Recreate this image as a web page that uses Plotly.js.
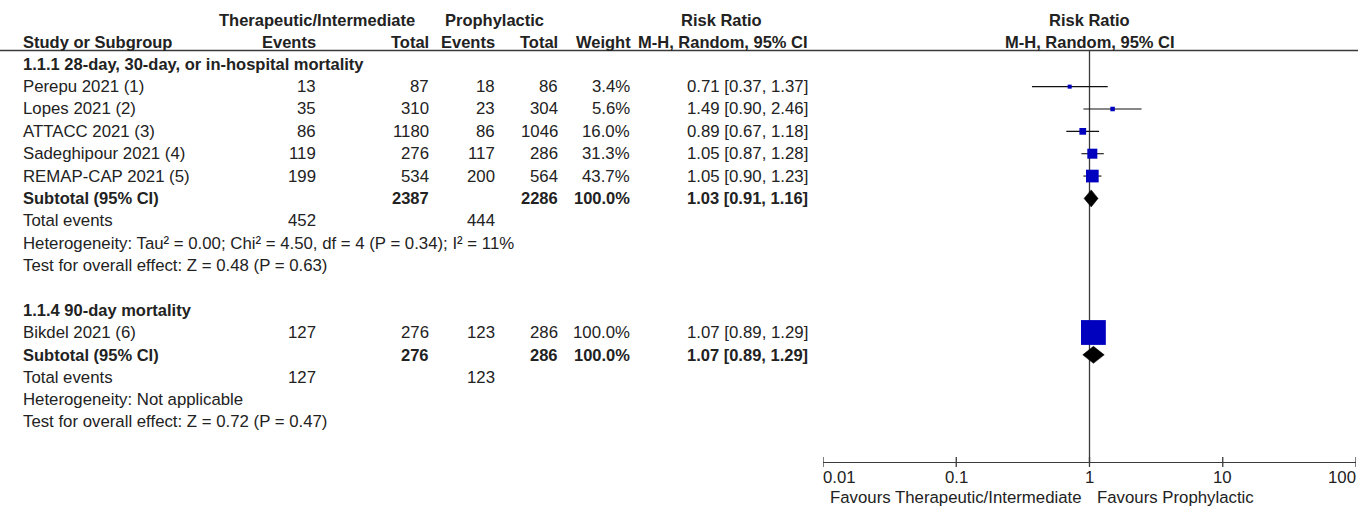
<!DOCTYPE html>
<html>
<head>
<meta charset="utf-8">
<script src="https://cdn.plot.ly/plotly-3.0.1.min.js"></script>
<style>
  html, body { margin: 0; padding: 0; background: #fff; }
  #chart { width: 1358px; height: 506px; }
</style>
</head>
<body>
<div id="chart"></div>
<script>
// ---- Study-level data ----
const studies  = ["Perepu 2021 (1)", "Lopes 2021 (2)", "ATTACC 2021 (3)", "Sadeghipour 2021 (4)", "REMAP-CAP 2021 (5)", "Bikdel 2021 (6)"];
const subgroupOf = [0, 0, 0, 0, 0, 1];
const eventsT  = [13, 35, 86, 119, 199, 127];
const totalT   = [87, 310, 1180, 276, 534, 276];
const eventsP  = [18, 23, 86, 117, 200, 123];
const totalP   = [86, 304, 1046, 286, 564, 286];
const weights  = [3.4, 5.6, 16.0, 31.3, 43.7, 100.0];
const rr       = [0.71, 1.49, 0.89, 1.05, 1.05, 1.07];
const rrLow    = [0.37, 0.90, 0.67, 0.87, 0.90, 0.89];
const rrHigh   = [1.37, 2.46, 1.18, 1.28, 1.23, 1.29];

// ---- Subgroup pooled results ----
const groupTitles   = ["1.1.1 28-day, 30-day, or in-hospital mortality", "1.1.4 90-day mortality"];
const subTotalT     = [2387, 276];
const subTotalP     = [2286, 286];
const subWeight     = [100.0, 100.0];
const subRR         = [1.03, 1.07];
const subLow        = [0.91, 0.89];
const subHigh       = [1.16, 1.29];
const subEventsT    = [452, 127];
const subEventsP    = [444, 123];
const heterogeneity = ["Heterogeneity: Tau\u00B2 = 0.00; Chi\u00B2 = 4.50, df = 4 (P = 0.34); I\u00B2 = 11%",
                       "Heterogeneity: Not applicable"];
const overallTest   = ["Test for overall effect: Z = 0.48 (P = 0.63)",
                       "Test for overall effect: Z = 0.72 (P = 0.47)"];

// ---- Axis ----
const tickVals   = [0.01, 0.1, 1, 10, 100];
const tickLabels = ["0.01", "0.1", "1", "10", "100"];
const favoursLeft  = "Favours Therapeutic/Intermediate";
const favoursRight = "Favours Prophylactic";

// ---- Page geometry (pixels) ----
const W = 1358, H = 506;
const FONT = "Liberation Sans, Arial, sans-serif";
const FS = 16.8;
const FS_BOLD = 16.5;
const INK = "#222";
const ROW0 = 64.3, STEP = 22.35;
const HEAD1 = 20, HEAD2 = 42.5, RULE_Y = 50.5, AXIS_Y = 462;
const PLOT_L = 823, PLOT_R = 1356;
const COL = { label: 23, evT: 316, totT: 429, evP: 495, totP: 558, wt: 630, ci: 808 };

const ann = [];
function txt(x, y, s, anchor, bold) {
  ann.push({
    xref: "paper", yref: "paper", x: x / W, y: 1 - y / H,
    text: bold ? "<b>" + s + "</b>" : s,
    showarrow: false, xanchor: anchor, yanchor: "middle",
    borderpad: 0, borderwidth: 0,
    font: { family: FONT, size: bold ? FS_BOLD : FS, color: INK }
  });
}
const f2 = v => v.toFixed(2);
const ciText = (m, l, h) => f2(m) + " [" + f2(l) + ", " + f2(h) + "]";
const pct = v => v.toFixed(1) + "%";

// Column headers
txt(317, HEAD1, "Therapeutic/Intermediate", "center", true);
txt(494, HEAD1, "Prophylactic", "center", true);
txt(721, HEAD1, "Risk Ratio", "center", true);
txt(1089.5, HEAD1, "Risk Ratio", "center", true);
txt(COL.label, HEAD2, "Study or Subgroup", "left", true);
txt(COL.evT, HEAD2, "Events", "right", true);
txt(COL.totT, HEAD2, "Total", "right", true);
txt(COL.evP, HEAD2, "Events", "right", true);
txt(COL.totP, HEAD2, "Total", "right", true);
txt(COL.wt + 1, HEAD2, "Weight", "right", true);
txt(COL.ci, HEAD2, "M-H, Random, 95% CI", "right", true);
txt(1089.5, HEAD2, "M-H, Random, 95% CI", "center", true);

// Table body: one block per subgroup
const studyRowY = [];
const subRowY = [];
let row = 0;
groupTitles.forEach((title, g) => {
  const y = () => ROW0 + STEP * row;
  txt(COL.label, y(), title, "left", true); row++;
  studies.forEach((s, i) => {
    if (subgroupOf[i] !== g) return;
    txt(COL.label, y(), s, "left");
    txt(COL.evT, y(), String(eventsT[i]), "right");
    txt(COL.totT, y(), String(totalT[i]), "right");
    txt(COL.evP, y(), String(eventsP[i]), "right");
    txt(COL.totP, y(), String(totalP[i]), "right");
    txt(COL.wt, y(), pct(weights[i]), "right");
    txt(COL.ci, y(), ciText(rr[i], rrLow[i], rrHigh[i]), "right");
    studyRowY[i] = y();
    row++;
  });
  txt(COL.label, y(), "Subtotal (95% CI)", "left", true);
  txt(COL.totT, y(), String(subTotalT[g]), "right", true);
  txt(COL.totP, y(), String(subTotalP[g]), "right", true);
  txt(COL.wt, y(), pct(subWeight[g]), "right", true);
  txt(COL.ci, y(), ciText(subRR[g], subLow[g], subHigh[g]), "right", true);
  subRowY[g] = y();
  row++;
  txt(COL.label, y(), "Total events", "left");
  txt(COL.evT, y(), String(subEventsT[g]), "right");
  txt(COL.evP, y(), String(subEventsP[g]), "right");
  row++;
  txt(COL.label, y(), heterogeneity[g], "left"); row++;
  txt(COL.label, y(), overallTest[g], "left"); row++;
  row++; // gap before next subgroup
});

// Axis tick labels and direction captions
tickVals.forEach((t, k) => {
  ann.push({
    xref: "x", yref: "paper", x: Math.log10(t), y: 1 - 477.5 / H,
    text: tickLabels[k], showarrow: false,
    xanchor: k === 0 ? "left" : (k === tickVals.length - 1 ? "right" : "center"),
    yanchor: "middle", borderpad: 0, borderwidth: 0,
    font: { family: FONT, size: FS, color: INK }
  });
});
txt(1082, 497.5, favoursLeft, "right");
txt(1097, 497.5, favoursRight, "left");

// ---- Traces ----
const traces = [];
// line of no effect
traces.push({ x: [1, 1], y: [RULE_Y, AXIS_Y], mode: "lines",
  line: { color: "#3a3a3a", width: 1.3 }, hoverinfo: "skip" });
// confidence intervals
const ciX = [], ciY = [];
studies.forEach((s, i) => { ciX.push(rrLow[i], rrHigh[i], null); ciY.push(studyRowY[i], studyRowY[i], null); });
traces.push({ x: ciX, y: ciY, mode: "lines", line: { color: "#111", width: 1.1 }, hoverinfo: "skip" });
// point estimates, square size grows with study weight
traces.push({ x: rr, y: studyRowY, mode: "markers",
  marker: { symbol: "square", color: "#0000BF", opacity: 1,
            size: weights.map(w => 3.3 + 0.215 * w), line: { width: 0 } },
  hoverinfo: "skip" });
// pooled diamonds
const DH = 8.5;
subRR.forEach((m, g) => {
  const yc = subRowY[g];
  traces.push({ x: [subLow[g], m, subHigh[g], m, subLow[g]], y: [yc, yc - DH, yc, yc + DH, yc],
    mode: "lines", fill: "toself", fillcolor: "#000", line: { color: "#000", width: 0.5 }, hoverinfo: "skip" });
});
// axis ticks crossing the axis line
const tkX = [], tkY = [];
tickVals.forEach(t => { tkX.push(t, t, null); tkY.push(AXIS_Y - 5, AXIS_Y + 5, null); });
traces.push({ x: tkX, y: tkY, mode: "lines", line: { color: "#3a3a3a", width: 1.3 }, hoverinfo: "skip", cliponaxis: false });

const layout = {
  width: W, height: H,
  margin: { l: 0, r: 0, t: 0, b: 0, pad: 0 },
  paper_bgcolor: "#fff", plot_bgcolor: "rgba(0,0,0,0)",
  showlegend: false,
  xaxis: {
    type: "log", range: [-2, 2], domain: [PLOT_L / W, PLOT_R / W],
    anchor: "free", position: (H - AXIS_Y) / H,
    showline: true, linecolor: "#3a3a3a", linewidth: 1.3,
    ticks: "", showticklabels: false, showgrid: false, zeroline: false, fixedrange: true
  },
  yaxis: {
    range: [H, 0], domain: [0, 1], visible: false, showgrid: false, zeroline: false, fixedrange: true
  },
  shapes: [
    { type: "line", xref: "paper", yref: "paper", x0: 0, x1: 1, y0: 1 - RULE_Y / H, y1: 1 - RULE_Y / H,
      line: { color: "#3a3a3a", width: 1.6 } }
  ],
  annotations: ann
};

Plotly.newPlot("chart", traces, layout, { staticPlot: true, displayModeBar: false });
</script>
</body>
</html>
